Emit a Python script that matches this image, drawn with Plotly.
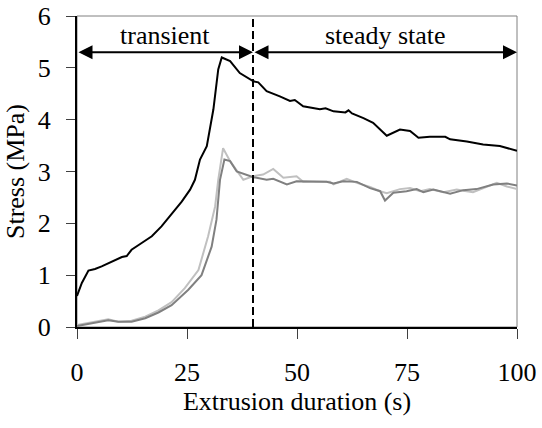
import plotly.graph_objects as go

# Data
black_x = [0, 0.3, 1.1, 2.6, 4.1, 5.6, 7.1, 8.6, 10.2, 11.3, 12.4, 14.7, 17, 19.2, 21.5, 23.8, 25.7, 26.8,
           27.95, 29.5, 31, 31.7, 32.1, 32.9, 34.8, 37, 40.1, 41.2, 43.1, 46.1, 47.2, 48.4, 49.5, 51.4,
           55.2, 56.5, 58.3, 61.0, 61.7, 62.5, 65.1, 67.3, 70.4, 72.0, 73.4, 75.7, 77.6, 80.2, 83.7,
           84.8, 88.6, 92.3, 96.1, 100]
black_y = [0.6, 0.68, 0.85, 1.09, 1.12, 1.17, 1.23, 1.3, 1.35, 1.37, 1.49, 1.62, 1.75, 1.94, 2.17, 2.42, 2.65, 2.84,
           3.23, 3.49, 4.2, 4.71, 4.97, 5.2, 5.13, 4.9, 4.74, 4.72, 4.55, 4.45, 4.41, 4.36, 4.38, 4.26,
           4.2, 4.22, 4.16, 4.14, 4.18, 4.12, 4.03, 3.94, 3.69, 3.75, 3.81, 3.78, 3.65, 3.67, 3.67,
           3.62, 3.58, 3.52, 3.49, 3.4]

light_x = [0, 4.1, 7.1, 9.4, 12.4, 15.5, 18.5, 21.5, 24.5, 27.6, 29.8, 31.4, 32.1, 33.2, 34.8, 37.8,
           40.1, 42.3, 44.6, 46.9, 49.9, 51.4, 57.5, 58.3, 61.3, 63.6, 66.6, 68.9, 70.4, 73.4, 75.7,
           78, 80.2, 83.3, 86.3, 90, 93.1, 95.4, 97.7, 100]
light_y = [0.04, 0.1, 0.15, 0.1, 0.12, 0.2, 0.32, 0.48, 0.75, 1.1, 1.75, 2.33, 2.84, 3.45, 3.2, 2.84,
           2.91, 2.94, 3.05, 2.88, 2.91, 2.8, 2.8, 2.75, 2.86, 2.78, 2.7, 2.62, 2.58, 2.66, 2.68,
           2.62, 2.66, 2.6, 2.65, 2.6, 2.71, 2.78, 2.71, 2.66]

dark_x = [0, 4.1, 7.1, 9.4, 12.4, 15.5, 18.5, 21.5, 25.3, 28.3, 30.6, 31.7, 32.5, 33.5, 34.8, 36.3,
          40.1, 43.1, 44.6, 47.7, 49.9, 56.7, 58.3, 60.5, 63.6, 66.6, 68.9, 70, 71.9, 74.9, 77.2,
          78.7, 81, 84.8, 87.8, 90.8, 94.6, 97.7, 100]
dark_y = [0.02, 0.08, 0.13, 0.1, 0.1, 0.17, 0.28, 0.42, 0.72, 1.0, 1.55, 2.07, 2.84, 3.23, 3.2, 3.0,
          2.89, 2.84, 2.86, 2.75, 2.81, 2.8, 2.77, 2.81, 2.8, 2.68, 2.62, 2.44, 2.59, 2.62, 2.66,
          2.6, 2.65, 2.57, 2.64, 2.66, 2.75, 2.77, 2.73]

x_ticks = [0, 25, 50, 75, 100]
y_ticks = [0, 1, 2, 3, 4, 5, 6]
boundary_x = 40
arrow_y = 5.3
label_y = 5.62
labels = ["transient", "steady state"]
label_x = [20, 70]

FONT = "Liberation Serif"
FS = 26

fig = go.Figure()
fig.add_trace(go.Scatter(x=light_x, y=light_y, mode="lines",
                         line=dict(color="#c0c0c0", width=2), showlegend=False))
fig.add_trace(go.Scatter(x=dark_x, y=dark_y, mode="lines",
                         line=dict(color="#808080", width=2), showlegend=False))
fig.add_trace(go.Scatter(x=black_x, y=black_y, mode="lines",
                         line=dict(color="#000000", width=2), showlegend=False))

# plot border (top/right gray)
fig.add_shape(type="rect", xref="paper", yref="paper", x0=0, x1=1, y0=0, y1=1,
              line=dict(color="#808080", width=1), layer="below")
# dashed boundary
fig.add_shape(type="line", xref="x", yref="y", x0=boundary_x, x1=boundary_x, y0=0, y1=6,
              line=dict(color="black", width=2, dash="8px,4px"))

# double arrows
for (a, b) in [(0, boundary_x), (boundary_x, 100)]:
    fig.add_annotation(x=b, y=arrow_y, ax=a, ay=arrow_y, xref="x", yref="y", axref="x", ayref="y",
                       text="", showarrow=True, arrowhead=2, startarrowhead=2, arrowside="end+start",
                       arrowsize=1.4, startarrowsize=1.4, arrowwidth=2, arrowcolor="black")
for lx, lt in zip(label_x, labels):
    fig.add_annotation(x=lx, y=label_y, xref="x", yref="y", text=lt, showarrow=False,
                       font=dict(family=FONT, size=FS, color="black"))

fig.update_layout(
    width=542, height=428,
    margin=dict(l=77, r=25, t=16, b=101, autoexpand=False),
    paper_bgcolor="white", plot_bgcolor="white",
    font=dict(family=FONT, size=FS, color="black"),
    showlegend=False,
)
fig.update_xaxes(range=[0, 100], tickvals=x_ticks, ticks="outside", ticklen=10, tickwidth=1,
                 tickcolor="#404040", showline=True, linecolor="black", linewidth=1.5,
                 showgrid=False, zeroline=False, ticklabelstandoff=11, automargin=False,
                 title=dict(text="Extrusion duration (s)", standoff=6,
                            font=dict(family=FONT, size=FS)),
                 tickfont=dict(family=FONT, size=FS))
fig.update_yaxes(range=[0, 6], tickvals=y_ticks, ticks="outside", ticklen=9, tickwidth=1,
                 tickcolor="#404040", showline=True, linecolor="black", linewidth=2,
                 showgrid=False, zeroline=False, ticklabelstandoff=10, automargin=False,
                 title=dict(text="Stress (MPa)", standoff=6,
                            font=dict(family=FONT, size=FS)),
                 tickfont=dict(family=FONT, size=FS))

fig.write_html("out.html")
